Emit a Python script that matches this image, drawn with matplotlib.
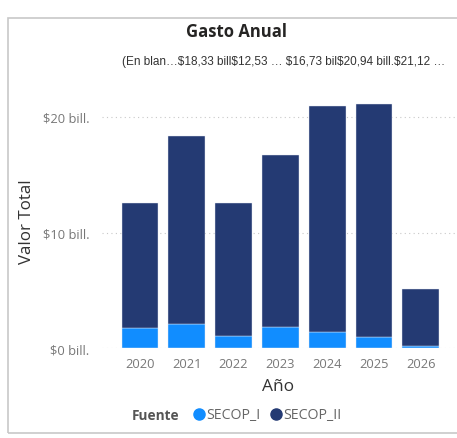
import matplotlib
matplotlib.use("Agg")
import matplotlib.pyplot as plt
from matplotlib.lines import Line2D
from matplotlib.patches import Rectangle

# ---- data ----
years = ["2020", "2021", "2022", "2023", "2024", "2025", "2026"]
secop_i = [1.75, 2.10, 1.04, 1.81, 1.38, 0.95, 0.20]
totals = [12.52, 18.33, 12.53, 16.73, 20.94, 21.12, 5.12]
secop_ii = [t - s for t, s in zip(totals, secop_i)]
total_labels = ["(En blan…", "$18,33 bill", "$12,53 … ", "$16,73 bil", "$20,94 bill.", "$21,12 …"]
yticks = [0, 10, 20]
ytick_labels = ["$0 bill.", "$10 bill.", "$20 bill."]

c1 = "#118DFF"
c2 = "#243A73"

W, H = 457, 439
fig = plt.figure(figsize=(W / 100, H / 100), dpi=100)
fig.patch.set_facecolor("white")

# outer border
fig.add_artist(Rectangle((8 / W, 1 - 434 / H), 460 / W, (434 - 19) / H,
                         transform=fig.transFigure, fill=False,
                         edgecolor="#c8c8c8", lw=1.2))

ax = fig.add_axes([102 / W, (H - 349.3) / H, 353 / W, 22 * 11.58 / H])
x = list(range(len(years)))
bw = 0.784
ax.bar(x, secop_i, width=bw, color=c1, edgecolor="#e6e9f2", linewidth=0.3, zorder=3)
ax.bar(x, secop_ii, width=bw, bottom=secop_i, color=c2, edgecolor="#e6e9f2", linewidth=0.3, zorder=3)

ax.set_xlim(-0.81, 6.73)
ax.set_ylim(0, 22)
ax.set_yticks(yticks)
ax.set_yticklabels(ytick_labels)
ax.set_xticks(x)
ax.set_xticklabels(years)
for s in ax.spines.values():
    s.set_visible(False)
ax.tick_params(length=0, colors="#777777", labelsize=9.3)
ax.tick_params(axis="x", pad=6)
ax.tick_params(axis="y", pad=9)
for lab in ax.get_xticklabels() + ax.get_yticklabels():
    lab.set_family("Open Sans")
ax.grid(axis="y", linestyle=(0, (1, 3)), color="#c8c8c8", lw=0.8, zorder=0)
ax.set_facecolor("white")

ax.set_ylabel("Valor Total", fontsize=12.2, color="#333333", family="Open Sans")
ax.yaxis.set_label_coords(-0.19, 0.5)
ax.set_xlabel("Año", fontsize=12.5, color="#333333", family="Open Sans", labelpad=6)

fig.text(236 / W, 1 - 32 / H, "Gasto Anual", ha="center", va="center",
         fontsize=12, fontweight="bold", family="Open Sans", color="#252423")

fig.text(122 / W, 1 - 62 / H, "".join(total_labels), ha="left", va="center",
         fontsize=8.5, family="Liberation Sans", color="#333333")

# legend
fig.text(132 / W, 1 - 416 / H, "Fuente", ha="left", va="center", fontsize=9.8,
         fontweight="bold", family="Open Sans", color="#555555")
handles = [Line2D([], [], marker="o", ls="", color=c1, markersize=8),
           Line2D([], [], marker="o", ls="", color=c2, markersize=8)]
leg = fig.legend(handles, ["SECOP_I", "SECOP_II"], loc="center left",
                 bbox_to_anchor=(182 / W, 1 - 416 / H), ncol=2, frameon=False,
                 handletextpad=0.0, columnspacing=0.6, handlelength=1.0,
                 borderpad=0.2, prop={"family": "Open Sans", "size": 10.2})
for t in leg.get_texts():
    t.set_color("#666666")

fig.savefig("out.png", dpi=100, facecolor="white")
